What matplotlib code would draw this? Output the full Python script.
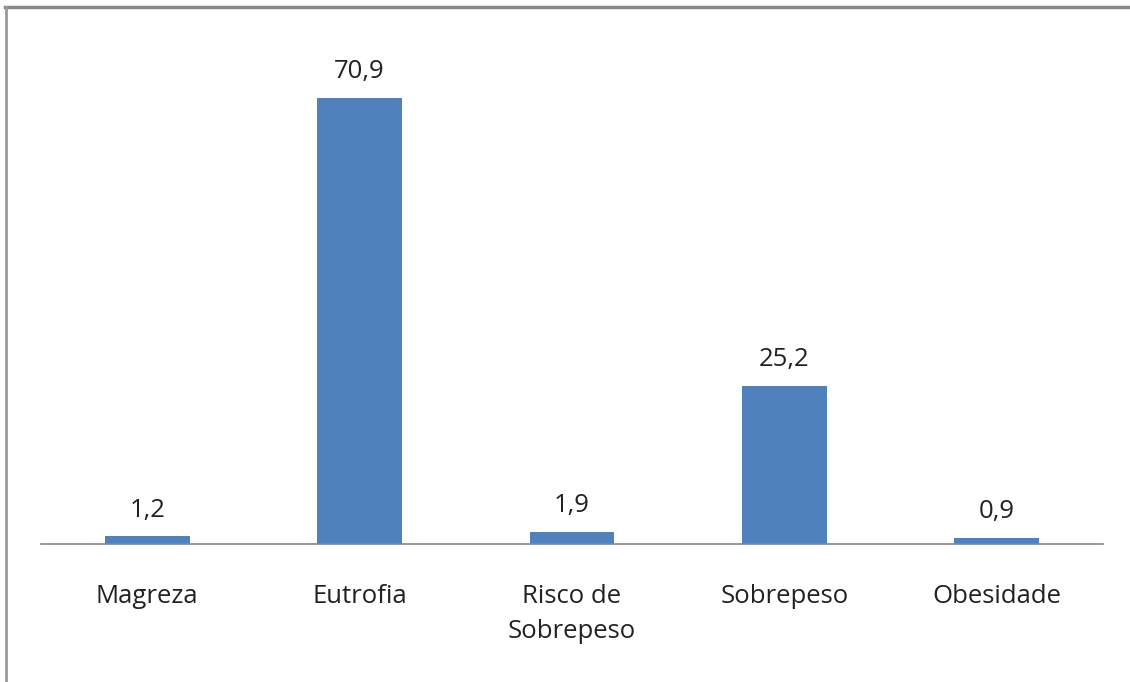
import matplotlib.pyplot as plt
from matplotlib.lines import Line2D

categories = ["Magreza", "Eutrofia", "Risco de\nSobrepeso", "Sobrepeso", "Obesidade"]
values = [1.2, 70.9, 1.9, 25.2, 0.9]
value_labels = ["1,2", "70,9", "1,9", "25,2", "0,9"]

plt.rcParams['font.family'] = ['Open Sans', 'DejaVu Sans']

fig = plt.figure(figsize=(11.3, 6.82), dpi=100)
ax = fig.add_axes([41 / 1130, 138 / 682, 1062 / 1130, 503 / 682])

x = list(range(len(categories)))
ax.bar(x, values, width=0.4, color="#4F81BD")
ax.set_xlim(-0.5, len(categories) - 0.5)
ax.set_ylim(0, 80)

for xi, v, lab in zip(x, values, value_labels):
    ax.annotate(lab, (xi, v), xytext=(0, 10), textcoords="offset points",
                ha="center", va="bottom", fontsize=18.5, color="#222222")

ax.set_xticks(x)
ax.set_xticklabels(categories, fontsize=18.5, color="#222222", linespacing=1.5, va="top")
ax.tick_params(axis="x", length=0, pad=29)
ax.set_yticks([])
for side in ["top", "right", "left"]:
    ax.spines[side].set_visible(False)
ax.spines["bottom"].set_color("#868686")
ax.spines["bottom"].set_linewidth(1.2)

# outer frame (top and left edges only)
fig.add_artist(Line2D([5 / 1130, 1], [1 - 6.5 / 682, 1 - 6.5 / 682], transform=fig.transFigure,
                      color="#888888", linewidth=2.5))
fig.add_artist(Line2D([6 / 1130, 6 / 1130], [0, 1 - 6.5 / 682], transform=fig.transFigure,
                      color="#999999", linewidth=2))

fig.savefig("out.png", dpi=100, facecolor="white")
